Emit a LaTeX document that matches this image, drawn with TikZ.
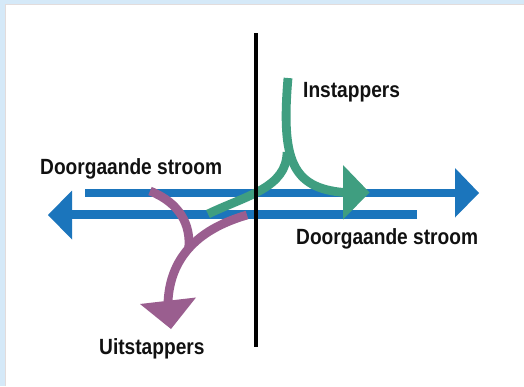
\documentclass[tikz,border=0pt]{standalone}
\usepackage{fontspec}
\newfontfamily\lab[FakeStretch=0.87]{Liberation Sans}
\definecolor{bgblue}{HTML}{D5E9F8}
\definecolor{edge}{HTML}{E2DCDC}
\definecolor{flowblue}{HTML}{1B75BC}
\definecolor{flowgreen}{HTML}{3F9E80}
\definecolor{flowpurple}{HTML}{9A5E8F}
\definecolor{ink}{HTML}{111111}
\begin{document}
\begin{tikzpicture}[x=1pt,y=-1pt,
  lbl/.style={font=\lab\bfseries\fontsize{22}{26}\selectfont, text=ink, inner sep=0pt, anchor=base west},
  bluestroke/.style={draw=flowblue, line width=8.8pt, line cap=butt},
  greenstroke/.style={draw=flowgreen, line width=8.8pt, line cap=butt},
  purplestroke/.style={draw=flowpurple, line width=8.8pt, line cap=butt},
  divider/.style={draw=black, line width=4.3pt, line cap=butt}]
\useasboundingbox (0,0) rectangle (524,386);
\fill[bgblue] (0,0) rectangle (524,386);
\fill[white] (5,4) rectangle (524,386);
\draw[edge, line width=0.8pt] (5.4,386) -- (5.4,4.4) -- (524,4.4);

% coordinates
\coordinate (b1s) at (85,193);
\coordinate (b1e) at (456,193);
\coordinate (b2s) at (417,214.5);
\coordinate (b2e) at (71,214.5);
\coordinate (gtop) at (288,78);
\coordinate (gend) at (344,192.5);
\coordinate (gj) at (287,152);
\coordinate (gleft) at (208,214);
\coordinate (ptop) at (150,191);
\coordinate (pright) at (247,215);
\coordinate (pj) at (188.7,248.4);
\coordinate (pend) at (168,302);
\coordinate (vtop) at (256,33);
\coordinate (vbot) at (256,347);

% blue flows
\draw[bluestroke] (b1s) -- (b1e);
\fill[flowblue] (455,168) -- (479,193) -- (455,217.5) -- cycle;
\draw[bluestroke] (b2s) -- (b2e);
\fill[flowblue] (72,190.5) -- (48,215) -- (72,239.5) -- cycle;

% green (instappers)
\draw[greenstroke] (gtop) .. controls (281,160) and (292,188) .. (gend);
\draw[greenstroke] (gj) .. controls (287,188) and (245,196) .. (gleft);
\fill[flowgreen] (343,165) -- (369.5,192.5) -- (343,219.5) -- cycle;

% purple (uitstappers)
\draw[purplestroke] (ptop) .. controls (180,203) and (191,225) .. (pj);
\draw[purplestroke] (pright) .. controls (195,230) and (170,260) .. (pend);
\fill[flowpurple] (140,304) -- (196,297.5) -- (171,329) -- cycle;

% divider
\draw[divider] (vtop) -- (vbot);

% labels
\node[lbl] (l1) at (40,174) {Doorgaande stroom};
\node[lbl] (l2) at (296,244) {Doorgaande stroom};
\node[lbl] (l3) at (303,97) {Instappers};
\node[lbl] (l4) at (99,354.5) {Uitstappers};
\end{tikzpicture}
\end{document}
